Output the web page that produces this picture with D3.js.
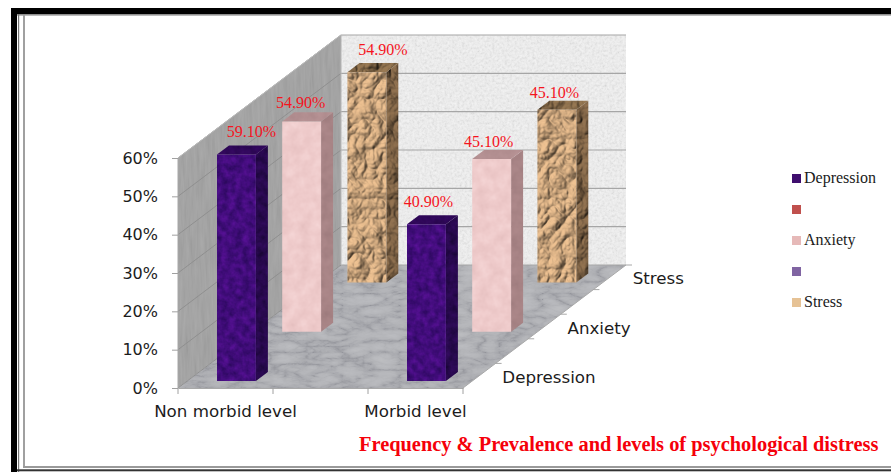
<!DOCTYPE html>
<html><head><meta charset="utf-8">
<script src="https://cdn.jsdelivr.net/npm/d3@7"></script>
<style>html,body{margin:0;padding:0;background:#fff}svg{display:block}</style>
</head><body><div id="chart"></div>
<script>
// ---- data ----
const categories = ["Non morbid level", "", "Morbid level"];
const seriesNames = ["Depression", "", "Anxiety", " ", "Stress"];
const depression = [59.1, null, 40.9];
const blankA = [null, null, null];
const anxiety = [54.9, null, 45.1];
const blankB = [null, null, null];
const stress = [54.9, null, 45.1];
const valueTicks = [0, 10, 20, 30, 40, 50, 60];
const titleText = "Frequency & Prevalence and levels of psychological distress";

// ---- layout / style ----
const W = 891, H = 472;
const allSeries = [depression, blankA, anxiety, blankB, stress];
const legendColors = ["#3f0e6e", "#c0504d", "#e6b9b8", "#8064a2", "#e6c295"];
const faceStyle = {
  Depression: {front:"tex-purple", side:"tex-purple-side", top:"tex-purple-top"},
  Anxiety: {front:"tex-pink", side:"tex-pink-side", top:"tex-pink-top"},
  Stress: {front:"tex-paper", side:"tex-paper-side", top:"tex-paper-top"}
};
const labelNudge = {
  Depression: [[9,-8],null,[-4,-8]],
  Anxiety: [[-7,-4],null,[-9,-3]],
  Stress: [[10,-8],null,[-8.5,-3]]
};

const svg = d3.select("#chart").append("svg").attr("width",W).attr("height",H);
const defs = svg.append("defs");

function noiseTexture(id, type, freq, oct, seed, stops){
  const f = defs.append("filter").attr("id",id).attr("color-interpolation-filters","sRGB")
    .attr("x","0%").attr("y","0%").attr("width","100%").attr("height","100%");
  f.append("feTurbulence").attr("type",type).attr("baseFrequency",freq).attr("numOctaves",oct).attr("seed",seed).attr("result","n");
  f.append("feColorMatrix").attr("in","n").attr("type","matrix")
    .attr("values","1 0 0 0 0 1 0 0 0 0 1 0 0 0 0 0 0 0 0 1").attr("result","g");
  const ct = f.append("feComponentTransfer").attr("in","g").attr("result","c");
  const rgb = stops.map(s=>d3.rgb(s));
  ct.append("feFuncR").attr("type","table").attr("tableValues",rgb.map(c=>(c.r/255).toFixed(3)).join(" "));
  ct.append("feFuncG").attr("type","table").attr("tableValues",rgb.map(c=>(c.g/255).toFixed(3)).join(" "));
  ct.append("feFuncB").attr("type","table").attr("tableValues",rgb.map(c=>(c.b/255).toFixed(3)).join(" "));
  f.append("feComposite").attr("in","c").attr("in2","SourceAlpha").attr("operator","in");
}
function crumpleTexture(id, color, seed, scale, mult){
  const f = defs.append("filter").attr("id",id).attr("color-interpolation-filters","sRGB")
    .attr("x","0%").attr("y","0%").attr("width","100%").attr("height","100%");
  f.append("feTurbulence").attr("type","turbulence").attr("baseFrequency","0.06 0.05").attr("numOctaves",3).attr("seed",seed).attr("result","n");
  const l = f.append("feDiffuseLighting").attr("in","n").attr("surfaceScale",scale).attr("diffuseConstant",mult).attr("lighting-color",color).attr("result","lit");
  l.append("feDistantLight").attr("azimuth",215).attr("elevation",58);
  f.append("feGaussianBlur").attr("in","lit").attr("stdDeviation",0.4).attr("result","soft");
  f.append("feComposite").attr("in","soft").attr("in2","SourceAlpha").attr("operator","in");
}
noiseTexture("tex-back","fractalNoise","0.4",3,4,["#d2d2d2","#e2e2e2","#ebebeb","#f1f1f1","#f6f6f6"]);
noiseTexture("tex-wall","fractalNoise","0.35 0.03",3,7,["#979797","#9f9f9f","#a4a4a4","#a8a8a8","#acacac"]);
noiseTexture("tex-floor","turbulence","0.035 0.085",4,11,["#95969c","#aaabb0","#b4b5b9","#b9babe","#bdbec1","#bfc0c3"]);
noiseTexture("tex-purple","fractalNoise","0.14",3,3,["#240850","#330a68","#420d7c","#52108f","#5e159f"]);
noiseTexture("tex-purple-side","fractalNoise","0.14",3,5,["#15052e","#1f0740","#28094e","#300b5a","#360d64"]);
noiseTexture("tex-purple-top","fractalNoise","0.2",2,6,["#250648","#30085a","#3a0a68"]);
noiseTexture("tex-pink","fractalNoise","0.09",3,9,["#e3bdbd","#eac5c5","#efcbcb","#f3d2d2","#f7d9d9"]);
noiseTexture("tex-pink-side","fractalNoise","0.09",3,2,["#9c7a7c","#a88486","#b18c8e"]);
noiseTexture("tex-pink-top","fractalNoise","0.09",3,8,["#aa8789","#b49092","#bc989a"]);
crumpleTexture("tex-paper","#d6ae83",12,3.2,1.12);
crumpleTexture("tex-paper-side","#86694a",15,3.2,1.1);
crumpleTexture("tex-paper-top","#927450",21,3.2,1.05);

// ---- frame ----
const frame = svg.append("g");
frame.append("rect").attr("x",11).attr("y",8).attr("width",W).attr("height",6).attr("fill","#000");
frame.append("rect").attr("x",11).attr("y",8).attr("width",6).attr("height",H).attr("fill","#000");
frame.append("rect").attr("x",17).attr("y",14).attr("width",W).attr("height",1.6).attr("fill","#8f8f8f");
frame.append("rect").attr("x",18).attr("y",14).attr("width",1.2).attr("height",H).attr("fill","#777");
frame.append("rect").attr("x",23).attr("y",15).attr("width",2).attr("height",451).attr("fill","#a0a0a0");
frame.append("rect").attr("x",23).attr("y",466).attr("width",W).attr("height",2).attr("fill","#9a9a9a");
frame.append("rect").attr("x",17).attr("y",469.3).attr("width",W).attr("height",2).attr("fill","#333");

// ---- scales ----
const xBand = d3.scaleBand().domain(categories).range([178,463]).paddingInner(0.59).paddingOuter(0.295).align(0.53);
const xCat = d3.scaleBand().domain(categories).range([178,463]);
const yVal = d3.scaleLinear().domain([0,60]).range([388,158]);
const dFull = d3.scaleBand().domain(seriesNames).range([0,1]);
const dBar = d3.scaleBand().domain(seriesNames).range([0,1]).paddingInner(0.632).paddingOuter(0.316).align(0.45);
const DEPTH = {x:163, y:-123};
const proj = (x,v,d) => [x + d*DEPTH.x, yVal(v) + d*DEPTH.y];
const poly = pts => pts.map(p=>p.map(n=>n.toFixed(1)).join(",")).join(" ");
const [x0,x1] = xCat.range();

// ---- walls and floor ----
const plot = svg.append("g");
plot.append("polygon").attr("points",poly([proj(x0,60,1),proj(x1,60,1),proj(x1,0,1),proj(x0,0,1)])).attr("filter","url(#tex-back)");
plot.append("polygon").attr("points",poly([proj(x0,60,0),proj(x0,60,1),proj(x0,0,1),proj(x0,0,0)])).attr("filter","url(#tex-wall)");
plot.append("polygon").attr("points",poly([proj(x0,0,0),proj(x0,0,1),proj(x1,0,1),proj(x1,0,0)])).attr("filter","url(#tex-floor)");

// ---- gridlines ----
const line = d3.line();
valueTicks.forEach(v=>{
  plot.append("path").attr("d",line([proj(x0,v,0),proj(x0,v,1)])).attr("fill","none").attr("stroke","#8f8f8f").attr("stroke-width",1);
  plot.append("path").attr("d",line([proj(x0,v,1),proj(x1,v,1)])).attr("fill","none").attr("stroke","#a6a6a6").attr("stroke-width",1.2);
});
plot.append("path").attr("d",line([proj(x0,60,0),proj(x0,60,1)])).attr("fill","none").attr("stroke","#bdbdbd");
plot.append("path").attr("d",line([proj(x0,0,0),proj(x0,60,0)])).attr("fill","none").attr("stroke","#a8a8a8");
plot.append("path").attr("d",line([proj(x0,60,1),proj(x0,0,1)])).attr("fill","none").attr("stroke","#b5b5b5");

// ---- bars, back to front ----
const bars = [];
seriesNames.forEach((s,si)=>categories.forEach((c,ci)=>{
  const v = allSeries[si][ci];
  if(v!=null) bars.push({s,si,c,ci,v});
}));
bars.sort((a,b)=>b.si-a.si || a.ci-b.ci);
const barG = plot.append("g");
bars.forEach(b=>{
  const g = barG.append("g");
  const xa = xBand(b.c), xb = xa + xBand.bandwidth();
  const da = dBar(b.s), db = da + dBar.bandwidth();
  const st = faceStyle[b.s];
  g.append("polygon").attr("points",poly([proj(xb,0,da),proj(xb,0,db),proj(xb,b.v,db),proj(xb,b.v,da)])).attr("filter",`url(#${st.side})`);
  g.append("polygon").attr("points",poly([proj(xa,b.v,da),proj(xa,b.v,db),proj(xb,b.v,db),proj(xb,b.v,da)])).attr("filter",`url(#${st.top})`);
  g.append("polygon").attr("points",poly([proj(xa,0,da),proj(xb,0,da),proj(xb,b.v,da),proj(xa,b.v,da)])).attr("filter",`url(#${st.front})`);
});
// data labels
const pct = d3.format(".2f");
bars.forEach(b=>{
  const xa = xBand(b.c), xb = xa + xBand.bandwidth();
  const da = dBar(b.s), db = da + dBar.bandwidth();
  const n = labelNudge[b.s][b.ci];
  const left = proj(xa,b.v,da), right = proj(xb,b.v,db);
  barG.append("text").attr("x",(left[0]+right[0])/2+n[0]).attr("y",right[1]+n[1])
    .attr("text-anchor","middle").attr("font-family","'Liberation Serif',serif").attr("font-size",16)
    .attr("fill","#f5141e").text(pct(b.v)+"%");
});

// ---- axes ----
const axisFont = "'DejaVu Sans',sans-serif";
const axisCol = "#1c1c1c";
const yAxis = svg.append("g").attr("transform",`translate(${x0},0)`)
  .call(d3.axisLeft(yVal).tickValues(valueTicks).tickFormat(d=>d+"%").tickSize(6).tickPadding(14));
yAxis.select(".domain").attr("stroke","none");
yAxis.selectAll("line").attr("stroke","#a0a0a0");
yAxis.selectAll("text").attr("font-family",axisFont).attr("font-size",16).attr("fill",axisCol);

const xAxis = svg.append("g").attr("transform",`translate(0,${yVal(0)})`)
  .call(d3.axisBottom(xCat).tickSize(0).tickPadding(17));
xAxis.select(".domain").attr("stroke","#a8a8a8");
xAxis.selectAll("text").attr("font-family",axisFont).attr("font-size",16.7).attr("fill",axisCol);
categories.forEach(c=>xAxis.append("line").attr("x1",xCat(c)).attr("x2",xCat(c)).attr("y1",0).attr("y2",6).attr("stroke","#a0a0a0"));
xAxis.append("line").attr("x1",x1).attr("x2",x1).attr("y1",0).attr("y2",6).attr("stroke","#a0a0a0");

const depthAxis = svg.append("g");
depthAxis.append("path").attr("d",line([proj(x1,0,0),proj(x1,0,1)])).attr("stroke","#a8a8a8").attr("fill","none");
dFull.domain().forEach(s=>{
  const p = proj(x1,0,dFull(s)+dFull.bandwidth());
  depthAxis.append("line").attr("x1",p[0]).attr("x2",p[0]+6).attr("y1",p[1]).attr("y2",p[1]).attr("stroke","#a8a8a8");
  if(s.trim()){
    const q = proj(x1,0,dFull(s)+dFull.bandwidth()/2);
    depthAxis.append("text").attr("x",q[0]+23).attr("y",q[1]+7).attr("font-family",axisFont).attr("font-size",16.7).attr("fill",axisCol).text(s);
  }
});

// ---- legend ----
const legend = svg.append("g");
const legendY = d3.scalePoint().domain(seriesNames).range([174,298]);
seriesNames.forEach((s,i)=>{
  legend.append("rect").attr("x",792).attr("y",legendY(s)).attr("width",9).attr("height",9).attr("fill",legendColors[i]);
  legend.append("text").attr("x",804).attr("y",legendY(s)+9).attr("font-family","'Liberation Serif',serif").attr("font-size",16).attr("fill","#1a1a1a").text(s);
});

// ---- caption ----
svg.append("text").attr("x",359).attr("y",451).attr("font-family","'Liberation Serif',serif").attr("font-weight","bold")
  .attr("font-size",20.4).attr("fill","#f5000a").text(titleText);
</script></body></html>
